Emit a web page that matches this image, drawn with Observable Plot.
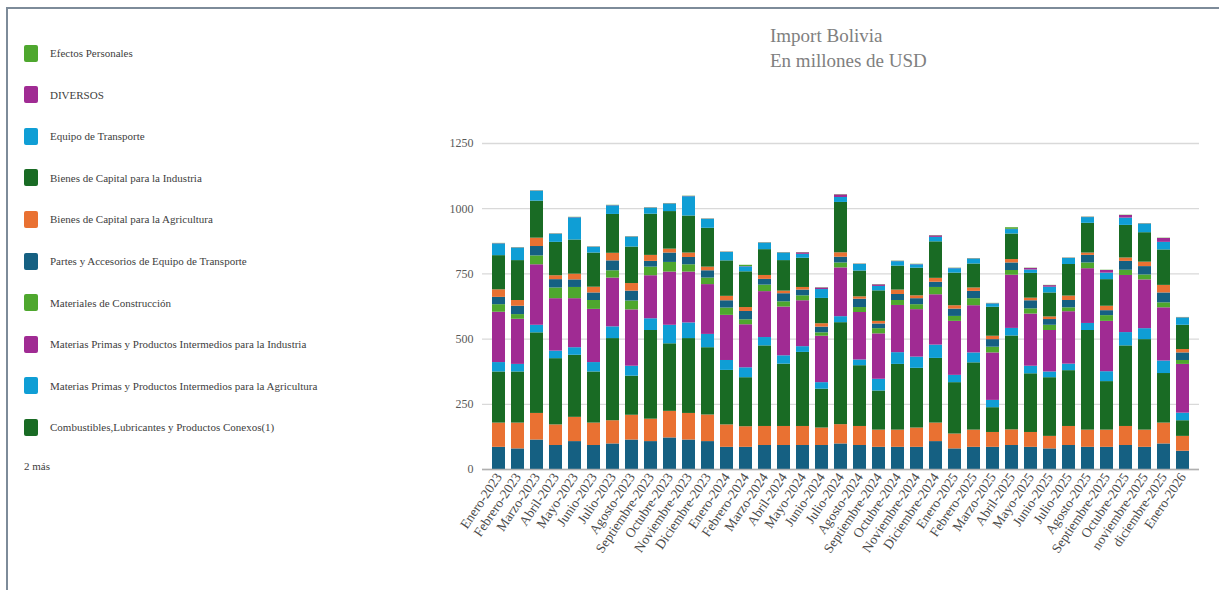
<!DOCTYPE html>
<html>
<head>
<meta charset="utf-8">
<script src="https://cdn.jsdelivr.net/npm/d3@7"></script>
<script src="https://cdn.jsdelivr.net/npm/@observablehq/plot@0.6"></script>
<style>
  html, body { margin: 0; padding: 0; background: #fff; }
  body { width: 1219px; height: 590px; position: relative; overflow: hidden; font-family: "Liberation Serif", "DejaVu Serif", serif; }
  #frame { position: absolute; left: 6px; top: 7px; right: -4px; bottom: -4px; border-top: 2px solid #7d8b99; border-left: 2px solid #7d8b99; }
  #chart { position: absolute; left: 0; top: 0; }
  #title { position: absolute; left: 770px; top: 23px; font-size: 19px; line-height: 25px; color: #808080; }
  .leg { position: absolute; left: 24px; height: 18px; display: flex; align-items: center; font-size: 11px; color: #404040; white-space: nowrap; }
  .sw { width: 14px; height: 17px; border-radius: 2px; margin-right: 12px; flex: none; }
  #more { position: absolute; left: 24px; top: 460px; font-size: 11px; color: #404040; }
</style>
</head>
<body>
<div id="frame"></div>
<div id="chart"></div>
<div id="title">Import Bolivia<br>En millones de USD</div>
<div id="legend"></div>
<div id="more">2 más</div>
<script>
const months = [
  "Enero-2023","Febrero-2023","Marzo-2023","Abril-2023","Mayo-2023","Junio-2023","Julio-2023","Agosto-2023","Septiembre-2023","Octubre-2023","Noviembre-2023","Diciembre-2023",
  "Enero-2024","Febrero-2024","Marzo-2024","Abril-2024","Mayo-2024","Junio-2024","Julio-2024","Agosto-2024","Septiembre-2024","Octubre-2024","Noviembre-2024","Diciembre-2024",
  "Enero-2025","Febrero-2025","Marzo-2025","Abril-2025","Mayo-2025","Junio-2025","Julio-2025","Agosto-2025","Septiembre-2025","Octubre-2025","noviembre-2025","diciembre-2025",
  "Enero-2026"
];

// stack order, bottom to top
const series = [
  "Bienes de Consumo No Duradero",
  "Bienes de Consumo Duradero",
  "Combustibles,Lubricantes y Productos Conexos(1)",
  "Materias Primas y Productos Intermedios para la Agricultura",
  "Materias Primas y Productos Intermedios para la Industria",
  "Materiales de Construcción",
  "Partes y Accesorios de Equipo de Transporte",
  "Bienes de Capital para la Agricultura",
  "Bienes de Capital para la Industria",
  "Equipo de Transporte",
  "DIVERSOS",
  "Efectos Personales"
];

const colors = ["#156082","#E97132","#196B24","#0F9ED5","#A02B93","#4EA72E","#156082","#E97132","#196B24","#0F9ED5","#A02B93","#4EA72E"];

const consumoNoDuradero = [85,79,113,92,107,92,98,113,107,121,113,107, 85,85,92,92,92,92,98,92,85,85,85,107, 79,85,85,92,85,79,92,85,85,92,85,98,70];
const consumoDuradero   = [93,99,102,79,93,86,89,95,86,102,102,102, 86,79,73,73,73,67,74,73,66,66,74,71, 57,66,57,60,57,48,73,66,66,73,66,80,57];
const combustibles      = [196,196,309,254,238,196,315,150,340,259,287,258, 209,188,309,239,284,149,391,233,150,252,229,248, 197,258,95,360,225,225,214,382,186,309,347,190,60];
const mpAgricultura     = [36,29,29,29,29,36,45,38,45,71,60,51, 38,38,32,32,22,25,23,22,45,45,43,51, 28,38,28,29,29,22,25,27,38,51,42,48,29];
const mpIndustria       = [193,173,232,201,188,204,187,216,165,204,195,191, 173,165,176,187,176,178,187,182,174,181,182,193, 207,181,182,204,200,159,201,210,193,219,187,204,187];
const construccion      = [29,18,34,41,43,34,28,34,33,37,28,25, 28,19,25,20,19,13,19,19,20,19,19,28, 19,27,22,18,20,20,15,22,22,20,19,19,15];
const partesAccesorios  = [28,32,36,32,29,29,38,38,22,36,28,28, 28,32,22,31,22,22,22,32,18,23,23,20, 28,28,29,29,31,22,28,29,19,34,32,38,29];
const bkAgricultura     = [29,22,32,15,22,22,29,29,23,15,17,14, 17,15,15,10,10,13,17,9,10,17,11,15, 13,13,13,13,10,10,17,9,17,13,17,29,13];
const bkIndustria       = [131,153,142,128,131,131,149,140,158,144,142,149, 136,137,99,117,112,97,193,99,117,92,106,140, 125,92,111,98,95,92,121,114,102,125,113,136,93];
const equipoTransporte  = [45,48,38,31,85,22,33,38,23,29,74,34, 32,19,25,29,15,34,19,25,17,17,13,17, 17,19,13,17,13,22,23,22,25,28,33,29,28];
const diversos          = [1,1,1,1,1,1,1,1,1,1,1,1, 1,1,1,1,6,6,10,1,6,1,1,6, 1,1,1,1,6,6,1,1,10,10,1,15,1];
const efectosPersonales = [1,1,1,1,1,1,1,1,1,1,1,1, 1,5,1,1,1,1,1,1,1,1,1,1, 1,1,1,6,1,1,1,1,1,1,1,1,1];

const values = [consumoNoDuradero, consumoDuradero, combustibles, mpAgricultura, mpIndustria, construccion,
  partesAccesorios, bkAgricultura, bkIndustria, equipoTransporte, diversos, efectosPersonales];

const yTicks = [0, 250, 500, 750, 1000, 1250];

const data = months.flatMap((m, i) => series.map((s, j) => ({month: m, serie: s, idx: j, value: values[j][i]})));

const chart = Plot.plot({
  width: 1219,
  height: 590,
  marginLeft: 482,
  marginRight: 20,
  marginTop: 143,
  marginBottom: 121,
  style: {fontFamily: "Liberation Serif, serif", background: "transparent", overflow: "visible"},
  x: {domain: months, padding: 0.33, label: null},
  y: {domain: [0, 1250], label: null},
  color: {domain: d3.range(series.length), range: colors},
  marks: [
    Plot.gridY(yTicks, {stroke: "#d9d9d9", strokeOpacity: 1, strokeWidth: 1.3}),
    Plot.barY(data, {x: "month", y: "value", fill: "idx", order: null, title: d => d.serie + ": " + d.value}),
    Plot.ruleY([0], {stroke: "#b0b0b0", strokeWidth: 1.5}),
    Plot.axisY({ticks: yTicks, tickFormat: d => String(d), tickSize: 0, tickPadding: 9, fontSize: 12, fill: "#595959", label: null}),
    Plot.axisX({tickSize: 0, tickPadding: 5, tickRotate: -56, fontSize: 13.5, fill: "#4a4a4a", label: null})
  ]
});
document.getElementById("chart").appendChild(chart);

// legend: reversed stack order, first 10 shown
const legend = document.getElementById("legend");
const shown = d3.range(series.length).reverse().slice(0, 10);
shown.forEach((j, k) => {
  const item = document.createElement("div");
  item.className = "leg";
  item.style.top = (44 + k * 41.6) + "px";
  const sw = document.createElement("div");
  sw.className = "sw";
  sw.style.background = colors[j];
  const t = document.createElement("span");
  t.textContent = series[j];
  item.appendChild(sw);
  item.appendChild(t);
  legend.appendChild(item);
});
</script>
</body>
</html>
